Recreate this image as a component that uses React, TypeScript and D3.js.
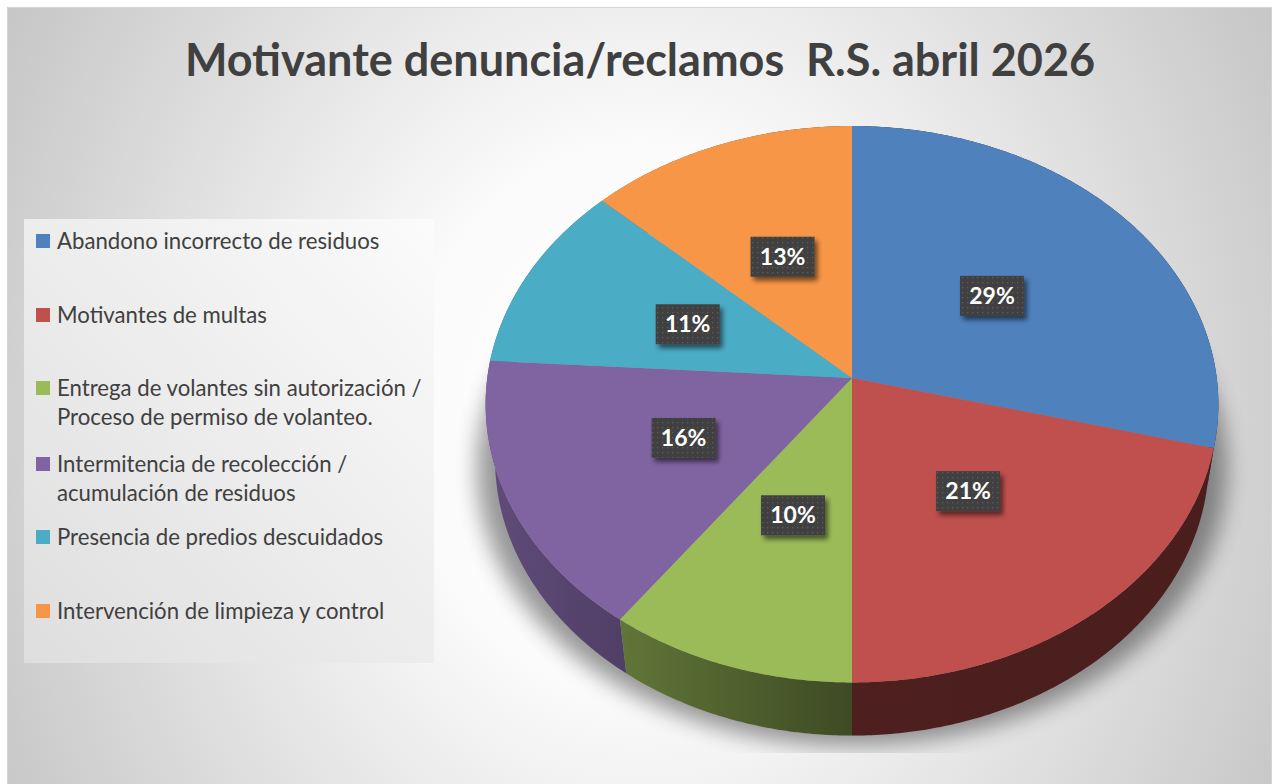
import React from "react";
import * as d3 from "d3";

const title = "Motivante denuncia/reclamos  R.S. abril 2026";
const categories = [
  "Abandono incorrecto de residuos",
  "Motivantes de multas",
  "Entrega de volantes sin autorización / Proceso de permiso de volanteo.",
  "Intermitencia de recolección / acumulación de residuos",
  "Presencia de predios descuidados",
  "Intervención de limpieza y control",
];
const legendLines = [
  ["Abandono incorrecto de residuos"],
  ["Motivantes de multas"],
  ["Entrega de volantes sin autorización /", "Proceso de permiso de volanteo."],
  ["Intermitencia de recolección /", "acumulación de residuos"],
  ["Presencia de predios descuidados"],
  ["Intervención de limpieza y control"],
];
const values = [29, 21, 10, 16, 11, 13];
const colors = ["#4f81bd", "#c0504d", "#9bbb59", "#8064a2", "#4bacc6", "#f79646"];

const W = 1278;
const H = 784;

// 3D perspective projection of a horizontal disk
const CX = 852;
const CY = 378;
const F = 2535;
const DIST = 6.95;
const PHI = Math.asin(0.756);
const THICK = 0.241;

function project(theta: number, r: number, h: number): [number, number] {
  const x = r * Math.sin(theta);
  const z = -r * Math.cos(theta);
  const dist = DIST - h * Math.sin(PHI) - z * Math.cos(PHI);
  const v = h * Math.cos(PHI) - z * Math.sin(PHI);
  return [CX + (F * x) / dist, CY - (F * v) / dist];
}

function arcPoints(a0: number, a1: number, h: number): [number, number][] {
  const n = Math.max(2, Math.ceil(Math.abs(a1 - a0) / 0.01));
  const pts: [number, number][] = [];
  for (let i = 0; i <= n; i++) {
    const a = a0 + ((a1 - a0) * i) / n;
    pts.push(project(a, 1, h));
  }
  return pts;
}

function scaleColor(c: string, k: number): string {
  const rgb = d3.rgb(c);
  return d3.rgb(rgb.r * k, rgb.g * k, rgb.b * k).formatHex();
}

export default function App() {
  const line = d3.line<[number, number]>().x((d) => d[0]).y((d) => d[1]);
  const pie = d3.pie<number>().sort(null).value((d) => d)(values);
  const total = d3.sum(values);
  const fmt = d3.format(".0%");

  const rim = arcPoints(0, Math.PI * 2, 0);
  const xMin = d3.min(rim, (d) => d[0]) as number;
  const xMax = d3.max(rim, (d) => d[0]) as number;

  const bottomRim = arcPoints(0, Math.PI * 2, -THICK);
  const shadowPath =
    line(bottomRim.map((p) => [CX + (p[0] - CX) * 1.05, p[1] + 10] as [number, number])) + "Z";

  const walls = pie
    .map((s, i) => {
      const top = arcPoints(s.startAngle, s.endAngle, 0);
      const bot = arcPoints(s.startAngle, s.endAngle, -THICK).reverse();
      const mid = (s.startAngle + s.endAngle) / 2;
      return { i, d: line([...top, ...bot]) + "Z", order: -Math.cos(mid) };
    })
    .sort((a, b) => a.order - b.order);

  const tops = pie.map((s, i) => {
    const pts = [project(0, 0, 0), ...arcPoints(s.startAngle, s.endAngle, 0)];
    return { i, d: line(pts) + "Z" };
  });

  const labels = pie.map((s, i) => {
    const mid = (s.startAngle + s.endAngle) / 2;
    const [x, y] = project(mid, 0.5, 0);
    return { i, x, y, text: fmt(s.data / total) };
  });

  const legendX = 24;
  const legendY = 219;
  const itemY = [241, 315, 388, 464, 537, 611];
  const lineGap = 29;

  return (
    <svg
      width={W}
      height={H}
      style={{ position: "absolute", left: 0, top: 0, display: "block" }}
      xmlns="http://www.w3.org/2000/svg"
    >
      <defs>
        <radialGradient
          id="bg"
          gradientUnits="userSpaceOnUse"
          cx={0}
          cy={0}
          r={1}
          gradientTransform="translate(640,420) scale(760,900)"
        >
          <stop offset="0" stopColor="#ffffff" />
          <stop offset="0.3" stopColor="#fbfbfb" />
          <stop offset="1" stopColor="#c2c2c2" />
        </radialGradient>
        <linearGradient id="legbg" x1="0" y1="1" x2="1" y2="0">
          <stop offset="0" stopColor="#dedede" />
          <stop offset="1" stopColor="#fbfbfb" />
        </linearGradient>
        {colors.map((c, i) => (
          <linearGradient
            key={i}
            id={`wall${i}`}
            gradientUnits="userSpaceOnUse"
            x1={xMin}
            y1={0}
            x2={xMax}
            y2={0}
          >
            <stop offset="0" stopColor={scaleColor(c, 0.76)} />
            <stop offset="0.5" stopColor={scaleColor(c, 0.4)} />
            <stop offset="1" stopColor={scaleColor(c, 0.38)} />
          </linearGradient>
        ))}
        <filter id="blur" x="-20%" y="-20%" width="140%" height="140%">
          <feGaussianBlur stdDeviation="11" />
        </filter>
        <filter id="lblshadow" x="-30%" y="-30%" width="160%" height="170%">
          <feGaussianBlur in="SourceAlpha" stdDeviation="2.5" />
          <feOffset dx="3" dy="4" result="o" />
          <feComponentTransfer>
            <feFuncA type="linear" slope="0.55" />
          </feComponentTransfer>
          <feMerge>
            <feMergeNode />
            <feMergeNode in="SourceGraphic" />
          </feMerge>
        </filter>
        <pattern id="dots" width="5" height="5" patternUnits="userSpaceOnUse">
          <rect width="5" height="5" fill="#404040" />
          <rect x="2" y="2" width="1.3" height="1.3" fill="#5c5c5c" />
        </pattern>
        <clipPath id="shadowClip">
          <rect x={0} y={0} width={W} height={753} />
        </clipPath>
      </defs>

      <rect x={7.5} y={7.5} width={1264} height={H} fill="url(#bg)" stroke="#d4d4d4" strokeWidth={1} />

      <text
        x={640}
        y={76}
        textAnchor="middle"
        fontFamily="Lato, 'Open Sans', sans-serif"
        fontWeight="bold"
        fontSize={45}
        fill="#404040"
        style={{ whiteSpace: "pre" }}
        xmlSpace="preserve"
      >
        {title}
      </text>

      <rect x={legendX} y={legendY} width={410} height={444} fill="url(#legbg)" />
      {legendLines.map((lines, i) => (
        <g key={i}>
          <rect x={36} y={itemY[i] - 7} width={14} height={14} fill={colors[i]} />
          {lines.map((t, j) => (
            <text
              key={j}
              x={57}
              y={itemY[i] + j * lineGap + 7.5}
              fontFamily="Lato, 'Open Sans', sans-serif"
              fontSize={22.2}
              fill="#404040"
            >
              {t}
            </text>
          ))}
        </g>
      ))}

      <g clipPath="url(#shadowClip)">
        <path d={shadowPath} fill="#000" opacity={0.4} filter="url(#blur)" />
      </g>

      {walls.map((w) => (
        <path key={w.i} d={w.d} fill={`url(#wall${w.i})`} />
      ))}

      {tops.map((t) => (
        <path key={t.i} d={t.d} fill={colors[t.i]} />
      ))}

      {labels.map((l) => (
        <g key={l.i}>
          <rect
            x={l.x - 32}
            y={l.y - 20}
            width={64}
            height={40}
            fill="url(#dots)"
            filter="url(#lblshadow)"
          />
          <text
            x={l.x}
            y={l.y + 8}
            textAnchor="middle"
            fontFamily="Lato, 'Open Sans', sans-serif"
            fontWeight="bold"
            fontSize={23}
            fill="#ffffff"
          >
            {l.text}
          </text>
        </g>
      ))}
    </svg>
  );
}
